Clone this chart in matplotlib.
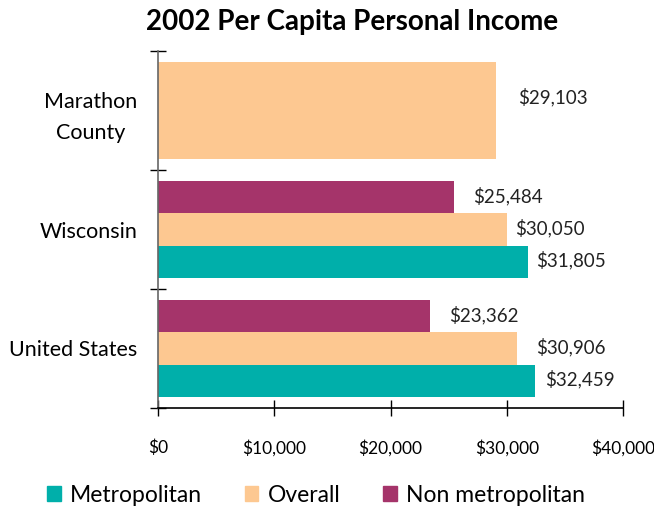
import matplotlib
matplotlib.use("Agg")
import matplotlib.pyplot as plt
from matplotlib.patches import Patch
from matplotlib.ticker import FixedLocator

plt.rcParams["font.family"] = ["Lato", "DejaVu Sans"]

# data
groups = ["United States", "Wisconsin", "Marathon\nCounty"]
metro = [32459, 31805, None]
overall = [30906, 30050, 29103]
nonmetro = [23362, 25484, None]
xticks = [0, 10000, 20000, 30000, 40000]
xticklabels = ["$0", "$10,000", "$20,000", "$30,000", "$40,000"]

C_METRO = "#00AFAA"
C_OVER = "#FDC891"
C_NON = "#A5346A"

fig = plt.figure(figsize=(6.54, 5.08), dpi=100)
ax = fig.add_axes([158 / 654, 1 - 408 / 508, 465 / 654, 357 / 508])

bh = 0.272


def label(x, y, dx, dy=1.5):
    ax.annotate("${:,}".format(x), (x, y), xytext=(dx, dy),
                textcoords="offset pixels", ha="left", va="center",
                fontsize=13.5, color="#222222")


for i, g in enumerate(groups):
    if metro[i] is None:
        # single overall bar fills the whole group
        ax.barh(i, overall[i], height=3 * bh, color=C_OVER)
        label(overall[i], i, 22, 13)
        continue
    ax.barh(i + bh, nonmetro[i], height=bh, color=C_NON)
    ax.barh(i, overall[i], height=bh, color=C_OVER)
    ax.barh(i - bh, metro[i], height=bh, color=C_METRO)
    label(nonmetro[i], i + bh, 19)
    label(overall[i], i, 19 if i == 0 else 8)
    label(metro[i], i - bh, 10 if i == 0 else 8)

ax.set_xlim(0, 40000)
ax.set_ylim(-0.5, 2.5)

for s in ["top", "right"]:
    ax.spines[s].set_visible(False)
ax.spines["left"].set_color("#666666")
ax.spines["left"].set_linewidth(1.2)
ax.spines["bottom"].set_linewidth(1.2)

ax.set_xticks(xticks)
ax.set_xticklabels(xticklabels, fontsize=12.5)
ax.tick_params(axis="x", direction="inout", length=11, width=1, pad=17)

ax.yaxis.set_major_locator(FixedLocator([-0.5, 0.5, 1.5, 2.5]))
ax.set_yticklabels([])
ax.set_yticks(range(len(groups)), minor=True)
ax.set_yticklabels(groups, minor=True, fontsize=15.5, multialignment="center",
                   linespacing=1.65)
ax.tick_params(axis="y", which="major", direction="inout", length=12, width=1)
ax.tick_params(axis="y", which="minor", length=0, pad=15)

fig.text(352 / 654, 1 - 22 / 508, "2002 Per Capita Personal Income",
         ha="center", va="center", fontsize=20, fontweight="bold")

handles = [Patch(color=C_METRO), Patch(color=C_OVER), Patch(color=C_NON)]
fig.legend(handles, ["Metropolitan", "Overall", "Non metropolitan"],
           loc="center", bbox_to_anchor=(316 / 654, 1 - 495 / 508), ncol=3,
           frameon=False, fontsize=16.5, handlelength=0.6, handleheight=0.6,
           handletextpad=0.4, columnspacing=1.85, borderpad=0)

fig.savefig("out.png", dpi=100, facecolor="white")
